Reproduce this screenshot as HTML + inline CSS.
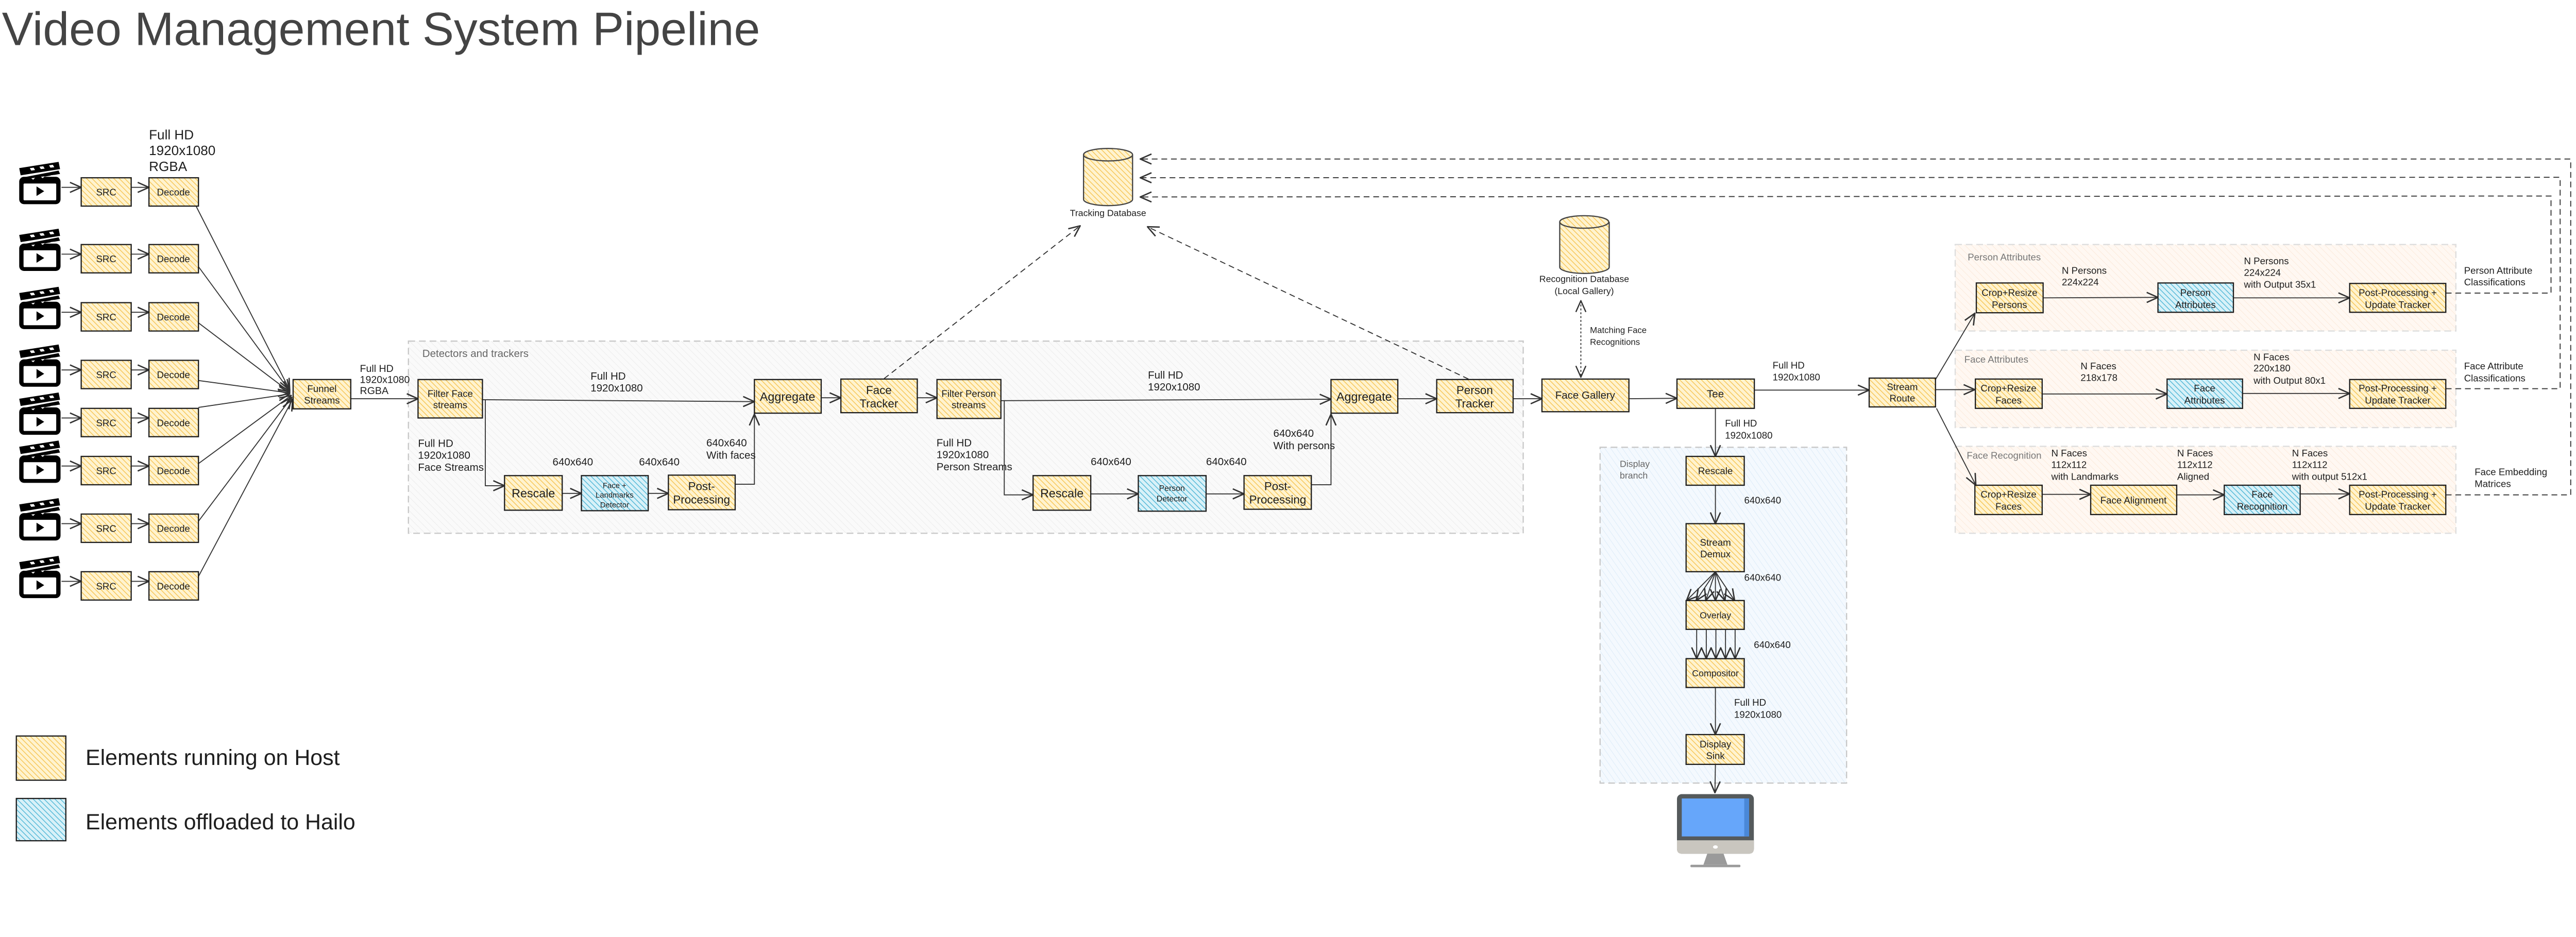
<!DOCTYPE html>
<html><head><meta charset="utf-8"><style>
html,body{margin:0;padding:0;background:#fff;overflow:hidden;}
svg{display:block;width:100vw;height:calc(100vw * 1819 / 5361);}
text{font-family:"Liberation Sans","DejaVu Sans",sans-serif;fill:#1e1e1e;}
</style></head><body>
<svg viewBox="0 0 5361 1819" preserveAspectRatio="none" xmlns="http://www.w3.org/2000/svg">
<defs>
<pattern id="hy" width="8" height="8" patternUnits="userSpaceOnUse" patternTransform="rotate(-45)">
<rect width="8" height="8" fill="#fff3cf"/><line x1="0" y1="0" x2="0" y2="8" stroke="#f6c453" stroke-width="3"/></pattern>
<pattern id="hb" width="8" height="8" patternUnits="userSpaceOnUse" patternTransform="rotate(-45)">
<rect width="8" height="8" fill="#d8f1f8"/><line x1="0" y1="0" x2="0" y2="8" stroke="#4fb6d6" stroke-width="3"/></pattern>
<pattern id="hg" width="10" height="10" patternUnits="userSpaceOnUse" patternTransform="rotate(-45)">
<rect width="10" height="10" fill="#fafafa"/><line x1="0" y1="0" x2="0" y2="10" stroke="#ececec" stroke-width="2"/></pattern>
<pattern id="hbl" width="10" height="10" patternUnits="userSpaceOnUse" patternTransform="rotate(-35)">
<rect width="10" height="10" fill="#f4f9fe"/><line x1="0" y1="0" x2="0" y2="10" stroke="#dcebf8" stroke-width="2"/></pattern>
<pattern id="ho" width="10" height="10" patternUnits="userSpaceOnUse" patternTransform="rotate(-45)">
<rect width="10" height="10" fill="#fff8f2"/><line x1="0" y1="0" x2="0" y2="10" stroke="#fbe9da" stroke-width="2"/></pattern>
<marker id="ar" viewBox="0 0 20 20" refX="19" refY="10" markerWidth="26" markerHeight="26" markerUnits="userSpaceOnUse" orient="auto">
<path d="M1 2 L19 10 L1 18" fill="none" stroke="#333" stroke-width="2.2"/></marker>
<marker id="ar2" viewBox="0 0 20 20" refX="19" refY="10" markerWidth="26" markerHeight="26" markerUnits="userSpaceOnUse" orient="auto-start-reverse">
<path d="M1 2 L19 10 L1 18" fill="none" stroke="#333" stroke-width="2"/></marker>
<g id="clap">
<rect x="0" y="28" width="86" height="57" rx="10" fill="#000"/>
<rect x="9" y="42" width="68" height="35" rx="2" fill="#fff"/>
<path d="M36 48 L52 58 L36 68 Z" fill="#000"/>
<rect x="9" y="33" width="68" height="7" fill="#000"/>
<path d="M4 30 L82 15 L85 22 L6 36 Z" fill="#000"/>
<path d="M0 10 L82 -3 L85 12 L3 25 Z" fill="#000"/>
<path d="M22 10 L30 9 L33 14 L25 15Z M42 7 L50 6 L53 11 L45 12Z M62 4 L70 3 L73 8 L65 9Z" fill="#fff"/>
<path d="M25 31 L33 30 L29 34Z M45 28 L53 27 L49 31Z M65 25 L73 24 L69 28Z" fill="#fff"/>
</g>
</defs>

<text x="4" y="94" font-size="98" style="fill:#444">Video Management System Pipeline</text>

<rect x="850" y="710" width="2320" height="400" fill="url(#hg)" stroke="#c8c8c8" stroke-width="2.5" stroke-dasharray="14 8"/>
<text x="879" y="743" font-size="22" style="fill:#666">Detectors and trackers</text>
<rect x="3330" y="931" width="513" height="699" fill="url(#hbl)" stroke="#c8c8c8" stroke-width="2.5" stroke-dasharray="14 8"/>
<text x="3371" y="972" font-size="19" style="fill:#666">Display</text>
<text x="3371" y="996" font-size="19" style="fill:#666">branch</text>
<rect x="4069" y="509" width="1042" height="180" fill="url(#ho)" stroke="#ddd" stroke-width="2.5" stroke-dasharray="14 8"/>
<text x="4095" y="542" font-size="20" style="fill:#777">Person Attributes</text>
<rect x="4069" y="729" width="1042" height="161" fill="url(#ho)" stroke="#ddd" stroke-width="2.5" stroke-dasharray="14 8"/>
<text x="4088" y="755" font-size="20" style="fill:#777">Face Attributes</text>
<rect x="4069" y="929" width="1042" height="181" fill="url(#ho)" stroke="#ddd" stroke-width="2.5" stroke-dasharray="14 8"/>
<text x="4093" y="955" font-size="20" style="fill:#777">Face Recognition</text>

<use href="#clap" x="40" y="340"/>
<use href="#clap" x="40" y="479"/>
<use href="#clap" x="40" y="600"/>
<use href="#clap" x="40" y="720"/>
<use href="#clap" x="40" y="820"/>
<use href="#clap" x="40" y="920"/>
<use href="#clap" x="40" y="1040"/>
<use href="#clap" x="40" y="1160"/>

<g stroke="#333" stroke-width="2" fill="none">
<g marker-end="url(#ar)">
<line x1="128" y1="390" x2="169" y2="390"/><line x1="273" y1="390" x2="310" y2="390"/>
<line x1="128" y1="529" x2="169" y2="529"/><line x1="273" y1="529" x2="310" y2="529"/>
<line x1="128" y1="650" x2="169" y2="650"/><line x1="273" y1="650" x2="310" y2="650"/>
<line x1="128" y1="770" x2="169" y2="770"/><line x1="273" y1="770" x2="310" y2="770"/>
<line x1="128" y1="870" x2="169" y2="870"/><line x1="273" y1="870" x2="310" y2="870"/>
<line x1="128" y1="970" x2="169" y2="970"/><line x1="273" y1="970" x2="310" y2="970"/>
<line x1="128" y1="1090" x2="169" y2="1090"/><line x1="273" y1="1090" x2="310" y2="1090"/>
<line x1="128" y1="1210" x2="169" y2="1210"/><line x1="273" y1="1210" x2="310" y2="1210"/>
<line x1="408" y1="429" x2="603" y2="812"/>
<line x1="413" y1="555" x2="603" y2="814"/>
<line x1="413" y1="672" x2="603" y2="816"/>
<line x1="413" y1="792" x2="603" y2="818"/>
<line x1="413" y1="848" x2="603" y2="820"/>
<line x1="413" y1="965" x2="606" y2="823"/>
<line x1="413" y1="1085" x2="607" y2="827"/>
<line x1="413" y1="1200" x2="609" y2="831"/>
<line x1="730" y1="830" x2="870" y2="830"/>
<line x1="1004" y1="832" x2="1570" y2="836"/>
<polyline points="1010,832 1010,1011 1050,1011"/>
<line x1="1170" y1="1027" x2="1210" y2="1027"/>
<line x1="1349" y1="1027" x2="1391" y2="1027"/>
<polyline points="1530,1008 1570,1008 1570,862"/>
<line x1="1709" y1="828" x2="1750" y2="828"/>
<line x1="1909" y1="828" x2="1950" y2="828"/>
<line x1="2083" y1="834" x2="2770" y2="831"/>
<polyline points="2090,834 2090,1030 2150,1030"/>
<line x1="2270" y1="1028" x2="2369" y2="1028"/>
<line x1="2510" y1="1028" x2="2589" y2="1028"/>
<polyline points="2729,1009 2770,1009 2770,862"/>
<line x1="2909" y1="830" x2="2990" y2="830"/>
<line x1="3149" y1="830" x2="3209" y2="830"/>
<line x1="3390" y1="830" x2="3490" y2="829"/>
<line x1="3651" y1="812" x2="3890" y2="812"/>
<line x1="4028" y1="790" x2="4110" y2="652"/>
<line x1="4028" y1="811" x2="4110" y2="811"/>
<line x1="4030" y1="850" x2="4112" y2="1010"/>
<line x1="3570" y1="850" x2="3570" y2="950"/>
<line x1="3570" y1="1010" x2="3570" y2="1090"/>
<line x1="3570" y1="1190" x2="3510" y2="1250"/>
<line x1="3570" y1="1190" x2="3530" y2="1250"/>
<line x1="3570" y1="1190" x2="3550" y2="1250"/>
<line x1="3570" y1="1190" x2="3570" y2="1250"/>
<line x1="3570" y1="1190" x2="3590" y2="1250"/>
<line x1="3570" y1="1190" x2="3610" y2="1250"/>
<line x1="3531" y1="1310" x2="3531" y2="1371"/>
<line x1="3551" y1="1310" x2="3551" y2="1371"/>
<line x1="3571" y1="1310" x2="3571" y2="1371"/>
<line x1="3591" y1="1310" x2="3591" y2="1371"/>
<line x1="3611" y1="1310" x2="3611" y2="1371"/>
<line x1="3570" y1="1431" x2="3570" y2="1529"/>
<line x1="3570" y1="1591" x2="3569" y2="1650"/>
<line x1="4252" y1="620" x2="4491" y2="619"/>
<line x1="4648" y1="620" x2="4890" y2="620"/>
<line x1="4250" y1="820" x2="4510" y2="820"/>
<line x1="4667" y1="819" x2="4890" y2="819"/>
<line x1="4250" y1="1029" x2="4351" y2="1029"/>
<line x1="4530" y1="1030" x2="4629" y2="1030"/>
<line x1="4787" y1="1028" x2="4890" y2="1028"/>
</g>
<g stroke-dasharray="12 8">
<line x1="1840" y1="788" x2="2248" y2="470" marker-end="url(#ar)"/>
<line x1="3056" y1="789" x2="2388" y2="472" marker-end="url(#ar)"/>
<polyline points="5090,610 5309,610 5309,408 2373,410" marker-end="url(#ar)"/>
<polyline points="5090,809 5328,809 5328,369 2373,370" marker-end="url(#ar)"/>
<polyline points="5090,1030 5350,1030 5350,331 2373,331" marker-end="url(#ar)"/>
</g>
<line x1="3290" y1="626" x2="3290" y2="785" stroke-dasharray="4 4" marker-start="url(#ar2)" marker-end="url(#ar2)"/>
</g>

<g stroke="#444" stroke-width="2.5">
<path d="M2255 322 L2255 415 A51 13 0 0 0 2357 415 L2357 322" fill="url(#hy)"/>
<ellipse cx="2306" cy="322" rx="51" ry="13" fill="url(#hy)"/>
<path d="M3246 462 L3246 556 A51 13 0 0 0 3349 556 L3349 462" fill="url(#hy)"/>
<ellipse cx="3297" cy="462" rx="51" ry="13" fill="url(#hy)"/>
</g>
<text x="2306" y="450" font-size="19" text-anchor="middle">Tracking Database</text>
<text x="3297" y="587" font-size="19" text-anchor="middle">Recognition Database</text>
<text x="3297" y="612" font-size="19" text-anchor="middle">(Local Gallery)</text>
<text x="3309" y="693" font-size="18">Matching Face</text>
<text x="3309" y="718" font-size="18">Recognitions</text>

<g stroke="#1e1e1e" stroke-width="2.5">
<rect x="169" y="370" width="104" height="59" fill="url(#hy)"/>
<rect x="310" y="370" width="103" height="59" fill="url(#hy)"/>
<rect x="169" y="509" width="104" height="59" fill="url(#hy)"/>
<rect x="310" y="509" width="103" height="59" fill="url(#hy)"/>
<rect x="169" y="630" width="104" height="59" fill="url(#hy)"/>
<rect x="310" y="630" width="103" height="59" fill="url(#hy)"/>
<rect x="169" y="750" width="104" height="59" fill="url(#hy)"/>
<rect x="310" y="750" width="103" height="59" fill="url(#hy)"/>
<rect x="169" y="850" width="104" height="59" fill="url(#hy)"/>
<rect x="310" y="850" width="103" height="59" fill="url(#hy)"/>
<rect x="169" y="950" width="104" height="59" fill="url(#hy)"/>
<rect x="310" y="950" width="103" height="59" fill="url(#hy)"/>
<rect x="169" y="1070" width="104" height="59" fill="url(#hy)"/>
<rect x="310" y="1070" width="103" height="59" fill="url(#hy)"/>
<rect x="169" y="1190" width="104" height="59" fill="url(#hy)"/>
<rect x="310" y="1190" width="103" height="59" fill="url(#hy)"/>
<rect x="610" y="790" width="120" height="61" fill="url(#hy)"/>
<rect x="870" y="790" width="134" height="80" fill="url(#hy)"/>
<rect x="1570" y="790" width="139" height="70" fill="url(#hy)"/>
<rect x="1750" y="789" width="159" height="70" fill="url(#hy)"/>
<rect x="1950" y="790" width="133" height="81" fill="url(#hy)"/>
<rect x="1050" y="990" width="120" height="72" fill="url(#hy)"/>
<rect x="1210" y="990" width="139" height="73" fill="url(#hb)"/>
<rect x="1391" y="989" width="139" height="72" fill="url(#hy)"/>
<rect x="2770" y="790" width="139" height="70" fill="url(#hy)"/>
<rect x="2990" y="790" width="159" height="69" fill="url(#hy)"/>
<rect x="2150" y="990" width="120" height="72" fill="url(#hy)"/>
<rect x="2369" y="990" width="141" height="74" fill="url(#hb)"/>
<rect x="2589" y="990" width="140" height="70" fill="url(#hy)"/>
<rect x="3209" y="789" width="181" height="68" fill="url(#hy)"/>
<rect x="3490" y="789" width="161" height="61" fill="url(#hy)"/>
<rect x="3890" y="787" width="138" height="60" fill="url(#hy)"/>
<rect x="3509" y="950" width="121" height="60" fill="url(#hy)"/>
<rect x="3509" y="1090" width="121" height="100" fill="url(#hy)"/>
<rect x="3509" y="1250" width="121" height="60" fill="url(#hy)"/>
<rect x="3509" y="1371" width="121" height="60" fill="url(#hy)"/>
<rect x="3509" y="1529" width="121" height="62" fill="url(#hy)"/>
<rect x="4113" y="589" width="139" height="62" fill="url(#hy)"/>
<rect x="4491" y="589" width="157" height="61" fill="url(#hb)"/>
<rect x="4890" y="590" width="200" height="60" fill="url(#hy)"/>
<rect x="4111" y="789" width="139" height="61" fill="url(#hy)"/>
<rect x="4510" y="789" width="157" height="61" fill="url(#hb)"/>
<rect x="4890" y="790" width="200" height="60" fill="url(#hy)"/>
<rect x="4110" y="1010" width="140" height="61" fill="url(#hy)"/>
<rect x="4351" y="1010" width="179" height="61" fill="url(#hy)"/>
<rect x="4629" y="1010" width="158" height="61" fill="url(#hb)"/>
<rect x="4890" y="1010" width="200" height="61" fill="url(#hy)"/>
<rect x="34" y="1532" width="103" height="92" fill="url(#hy)"/>
<rect x="34" y="1662" width="103" height="88" fill="url(#hb)"/>
</g>

<g font-size="20" text-anchor="middle">
<text x="221" y="407">SRC</text><text x="361" y="407">Decode</text>
<text x="221" y="546">SRC</text><text x="361" y="546">Decode</text>
<text x="221" y="667">SRC</text><text x="361" y="667">Decode</text>
<text x="221" y="787">SRC</text><text x="361" y="787">Decode</text>
<text x="221" y="887">SRC</text><text x="361" y="887">Decode</text>
<text x="221" y="987">SRC</text><text x="361" y="987">Decode</text>
<text x="221" y="1107">SRC</text><text x="361" y="1107">Decode</text>
<text x="221" y="1227">SRC</text><text x="361" y="1227">Decode</text>
<text x="670" y="816">Funnel</text><text x="670" y="840">Streams</text>
<text x="937" y="826">Filter Face</text><text x="937" y="850">streams</text>
<text x="1639" y="834" font-size="25">Aggregate</text>
<text x="1829" y="820" font-size="24">Face</text><text x="1829" y="848" font-size="24">Tracker</text>
<text x="2016" y="826">Filter Person</text><text x="2016" y="850">streams</text>
<text x="1110" y="1035" font-size="25">Rescale</text>
<text x="1279" y="1016" font-size="16">Face +</text><text x="1279" y="1036" font-size="16">Landmarks</text><text x="1279" y="1056" font-size="16">Detector</text>
<text x="1460" y="1020" font-size="24">Post-</text><text x="1460" y="1048" font-size="24">Processing</text>
<text x="2839" y="834" font-size="25">Aggregate</text>
<text x="3069" y="820" font-size="24">Person</text><text x="3069" y="848" font-size="24">Tracker</text>
<text x="2210" y="1035" font-size="25">Rescale</text>
<text x="2439" y="1022" font-size="17">Person</text><text x="2439" y="1044" font-size="17">Detector</text>
<text x="2659" y="1020" font-size="24">Post-</text><text x="2659" y="1048" font-size="24">Processing</text>
<text x="3299" y="830" font-size="22">Face Gallery</text>
<text x="3570" y="827" font-size="22">Tee</text>
<text x="3959" y="812">Stream</text><text x="3959" y="836">Route</text>
<text x="3570" y="987">Rescale</text>
<text x="3570" y="1136">Stream</text><text x="3570" y="1160">Demux</text>
<text x="3570" y="1287" font-size="19">Overlay</text>
<text x="3570" y="1408" font-size="19">Compositor</text>
<text x="3570" y="1556">Display</text><text x="3570" y="1580">Sink</text>
<text x="4182" y="616">Crop+Resize</text><text x="4182" y="641">Persons</text>
<text x="4569" y="616">Person</text><text x="4569" y="641">Attributes</text>
<text x="4990" y="616">Post-Processing +</text><text x="4990" y="641">Update Tracker</text>
<text x="4180" y="815">Crop+Resize</text><text x="4180" y="840">Faces</text>
<text x="4588" y="815">Face</text><text x="4588" y="840">Attributes</text>
<text x="4990" y="815">Post-Processing +</text><text x="4990" y="840">Update Tracker</text>
<text x="4180" y="1036">Crop+Resize</text><text x="4180" y="1061">Faces</text>
<text x="4440" y="1048">Face Alignment</text>
<text x="4708" y="1036">Face</text><text x="4708" y="1061">Recognition</text>
<text x="4990" y="1036">Post-Processing +</text><text x="4990" y="1061">Update Tracker</text>
</g>

<g font-size="22">
<text x="310" y="290" font-size="28">Full HD</text><text x="310" y="323" font-size="28">1920x1080</text><text x="310" y="356" font-size="28">RGBA</text>
<text x="749" y="774" font-size="21">Full HD</text><text x="749" y="797" font-size="21">1920x1080</text><text x="749" y="820" font-size="21">RGBA</text>
<text x="1229" y="790">Full HD</text><text x="1229" y="815">1920x1080</text>
<text x="870" y="930">Full HD</text><text x="870" y="955">1920x1080</text><text x="870" y="980">Face Streams</text>
<text x="1150" y="969">640x640</text><text x="1330" y="969">640x640</text>
<text x="1470" y="929">640x640</text><text x="1470" y="955">With faces</text>
<text x="2389" y="788">Full HD</text><text x="2389" y="813">1920x1080</text>
<text x="1949" y="929">Full HD</text><text x="1949" y="954">1920x1080</text><text x="1949" y="979">Person Streams</text>
<text x="2270" y="968">640x640</text><text x="2510" y="968">640x640</text>
<text x="2650" y="909">640x640</text><text x="2650" y="935">With persons</text>
<text x="3689" y="767" font-size="20">Full HD</text><text x="3689" y="792" font-size="20">1920x1080</text>
<text x="3590" y="888" font-size="20">Full HD</text><text x="3590" y="913" font-size="20">1920x1080</text>
<text x="3630" y="1048" font-size="20">640x640</text>
<text x="3630" y="1209" font-size="20">640x640</text>
<text x="3650" y="1349" font-size="20">640x640</text>
<text x="3609" y="1469" font-size="20">Full HD</text><text x="3609" y="1494" font-size="20">1920x1080</text>
<text x="4291" y="570" font-size="20">N Persons</text><text x="4291" y="594" font-size="20">224x224</text>
<text x="4670" y="550" font-size="20">N Persons</text><text x="4670" y="574" font-size="20">224x224</text><text x="4670" y="599" font-size="20">with Output 35x1</text>
<text x="5128" y="570" font-size="20">Person Attribute</text><text x="5128" y="594" font-size="20">Classifications</text>
<text x="4330" y="769" font-size="20">N Faces</text><text x="4330" y="793" font-size="20">218x178</text>
<text x="4690" y="750" font-size="20">N Faces</text><text x="4690" y="773" font-size="20">220x180</text><text x="4690" y="799" font-size="20">with Output 80x1</text>
<text x="5128" y="769" font-size="20">Face Attribute</text><text x="5128" y="794" font-size="20">Classifications</text>
<text x="4269" y="950" font-size="20">N Faces</text><text x="4269" y="974" font-size="20">112x112</text><text x="4269" y="999" font-size="20">with Landmarks</text>
<text x="4531" y="950" font-size="20">N Faces</text><text x="4531" y="974" font-size="20">112x112</text><text x="4531" y="999" font-size="20">Aligned</text>
<text x="4770" y="950" font-size="20">N Faces</text><text x="4770" y="974" font-size="20">112x112</text><text x="4770" y="999" font-size="20">with output 512x1</text>
<text x="5150" y="989" font-size="20">Face Embedding</text><text x="5150" y="1014" font-size="20">Matrices</text>
</g>

<text x="178" y="1592" font-size="46">Elements running on Host</text>
<text x="178" y="1726" font-size="46">Elements offloaded to Hailo</text>

<rect x="3490" y="1653" width="160" height="124" rx="10" fill="#555a5c"/>
<rect x="3500" y="1662" width="140" height="79" fill="#66a6fa"/>
<rect x="3630" y="1662" width="10" height="79" fill="#4a88d8"/>
<path d="M3490 1749 H3650 V1767 Q3650 1777 3640 1777 H3500 Q3490 1777 3490 1767 Z" fill="#c9c6bf"/>
<ellipse cx="3570" cy="1763" rx="5" ry="3.5" fill="#fff"/>
<path d="M3553 1777 H3587 L3595 1800 H3545 Z" fill="#9a9a9a"/>
<rect x="3518" y="1800" width="104" height="5" rx="2" fill="#9a9a9a"/>
</svg>
</body></html>
